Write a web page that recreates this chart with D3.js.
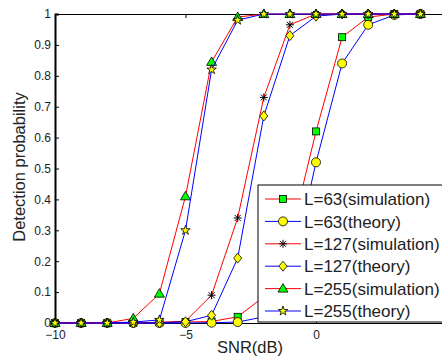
<!DOCTYPE html>
<html>
<head>
<meta charset="utf-8">
<script src="https://cdn.jsdelivr.net/npm/d3@7"></script>
<style>
body{margin:0;background:#fff;}
text{font-family:"Liberation Sans",Arial,sans-serif;fill:#222;}
</style>
</head>
<body>
<svg width="442" height="361"></svg>
<script>
var snr=[-10,-9,-8,-7,-6,-5,-4,-3,-2,-1,0,1,2,3,4];
var l63sim=[0,0,0,0,0.002,0.003,0.005,0.02,0.085,0.27,0.62,0.925,0.99,1,1];
var l63th=[0,0,0,0,0,0,0.001,0.003,0.02,0.14,0.52,0.84,0.965,0.997,1];
var l127sim=[0,0,0,0,0.002,0.006,0.09,0.34,0.73,0.965,1,1,1,1,1];
var l127th=[0,0,0,0,0.001,0.004,0.025,0.21,0.67,0.93,0.993,1,1,1,1];
var l255sim=[0,0,0,0.015,0.095,0.41,0.845,0.99,1,1,1,1,1,1,1];
var l255th=[0,0,0,0.003,0.01,0.30,0.82,0.98,1,1,1,1,1,1,1];
var xTicks=[-10,-5,0];
var yTicks=[0,0.1,0.2,0.3,0.4,0.5,0.6,0.7,0.8,0.9,1];
var names=["L=63(simulation)","L=63(theory)","L=127(simulation)","L=127(theory)","L=255(simulation)","L=255(theory)"];

var series=[
  {name:names[0],vals:l63sim,line:"#ff0000",mark:"square"},
  {name:names[1],vals:l63th,line:"#0000ff",mark:"circle"},
  {name:names[2],vals:l127sim,line:"#ff0000",mark:"asterisk"},
  {name:names[3],vals:l127th,line:"#0000ff",mark:"diamond"},
  {name:names[4],vals:l255sim,line:"#ff0000",mark:"triangle"},
  {name:names[5],vals:l255th,line:"#0000ff",mark:"star"}
];

var svg=d3.select("svg");
var x=d3.scaleLinear().domain([-10,5]).range([55,446.5]);
var y=d3.scaleLinear().domain([0,1]).range([323,14]);

// axes, ticks pointing inward
var gx=svg.append("g").attr("transform","translate(0,323)")
  .call(d3.axisBottom(x).tickValues(xTicks).tickSize(-4).tickPadding(7));
var gxt=svg.append("g").attr("transform","translate(0,14)")
  .call(d3.axisTop(x).tickValues(xTicks).tickSize(-4).tickFormat(""));
var gy=svg.append("g").attr("transform","translate(55,0)")
  .call(d3.axisLeft(y).tickValues(yTicks).tickSize(-4).tickPadding(4).tickFormat(d3.format("")));
[gx,gxt,gy].forEach(function(g){
  g.select(".domain").attr("stroke","#000").attr("stroke-width",1);
  g.selectAll(".tick line").attr("stroke","#000");
  g.selectAll("text").style("font-size","12px").attr("fill","#222");
});
gy.select(".domain").attr("stroke-width",2);

svg.append("text").attr("x",250).attr("y",353).attr("text-anchor","middle")
  .style("font-size","16.5px").text("SNR(dB)");
svg.append("text").attr("transform","translate(25,167) rotate(-90)").attr("text-anchor","middle")
  .style("font-size","16.5px").text("Detection probability");

function marker(g,type){
  if(type==="square"){
    g.append("rect").attr("x",-3.5).attr("y",-3.5).attr("width",7).attr("height",7)
      .attr("fill","#00ff00").attr("stroke","#000").attr("stroke-width",0.8);
  }else if(type==="circle"){
    g.append("circle").attr("r",4.5).attr("fill","#ffff00").attr("stroke","#000").attr("stroke-width",0.8);
  }else if(type==="diamond"){
    g.append("path").attr("d","M0,-5L4,0L0,5L-4,0Z").attr("fill","#ffff00").attr("stroke","#000").attr("stroke-width",0.8);
  }else if(type==="triangle"){
    g.append("path").attr("d","M0,-5L5,3.5L-5,3.5Z").attr("fill","#00ff00").attr("stroke","#000").attr("stroke-width",0.8);
  }else if(type==="star"){
    g.append("path").attr("d",d3.symbol().type(d3.symbolStar).size(28)())
      .attr("fill","#ffff00").attr("stroke","#000").attr("stroke-width",0.8);
  }else if(type==="asterisk"){
    g.append("path").attr("d","M-4,0L4,0M0,-4L0,4M-3,-3L3,3M-3,3L3,-3")
      .attr("stroke","#000").attr("stroke-width",1).attr("fill","none");
  }
}

var line=d3.line().x(function(d,i){return x(snr[i]);}).y(function(d){return y(d);});

series.forEach(function(s){
  svg.append("path").datum(s.vals).attr("d",line)
    .attr("fill","none").attr("stroke",s.line).attr("stroke-width",1);
  svg.append("g").selectAll("g").data(s.vals).enter().append("g")
    .attr("transform",function(d,i){return "translate("+x(snr[i])+","+y(d)+")";})
    .each(function(){marker(d3.select(this),s.mark);});
});

// legend
var lg=svg.append("g");
lg.append("rect").attr("x",258).attr("y",185).attr("width",200).attr("height",137)
  .attr("fill","#fff").attr("stroke","#000").attr("stroke-width",1);
var ly=d3.scalePoint().domain(names).range([199,311]);
series.forEach(function(s){
  var yy=ly(s.name);
  lg.append("line").attr("x1",265).attr("x2",301).attr("y1",yy).attr("y2",yy)
    .attr("stroke",s.line).attr("stroke-width",1);
  var m=lg.append("g").attr("transform","translate(283,"+yy+")");
  marker(m,s.mark);
  lg.append("text").attr("x",304).attr("y",yy).attr("dy","0.36em")
    .style("font-size","17px").text(s.name);
});
</script>
</body>
</html>
